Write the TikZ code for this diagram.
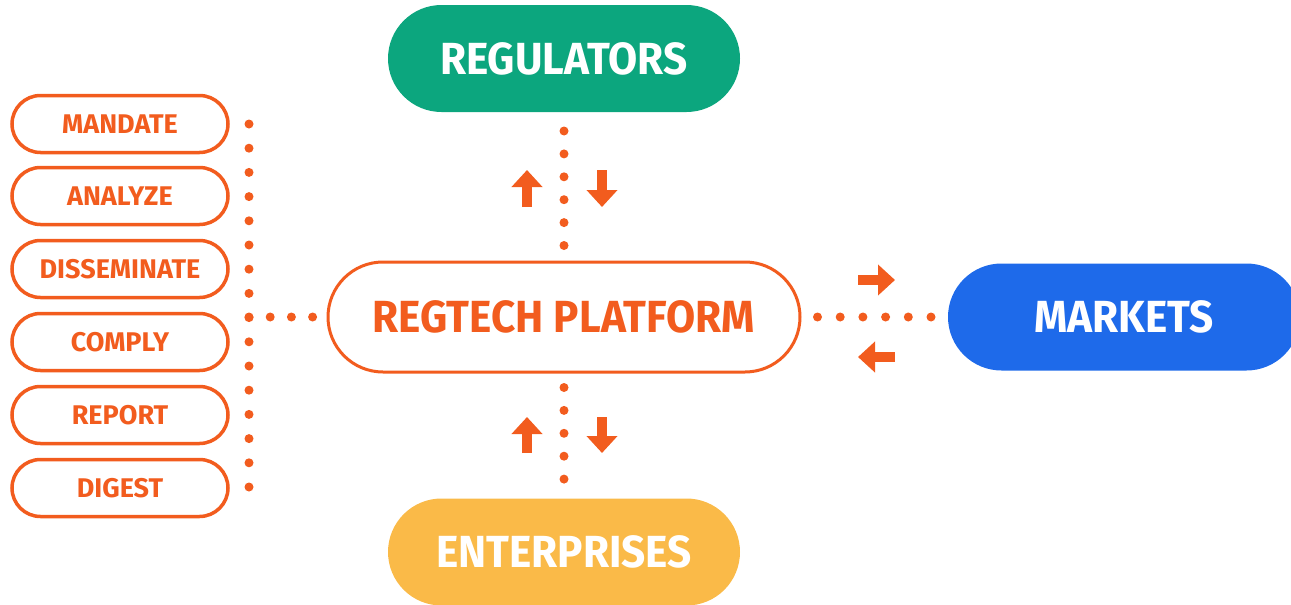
\documentclass[tikz,border=0pt]{standalone}
\usepackage{fontspec}
\newfontfamily\pillfont[FakeStretch=0.94]{Fira Sans}
\newfontfamily\stepfont{Fira Sans}
\usetikzlibrary{arrows.meta}

\definecolor{regorange}{RGB}{242,92,30}
\definecolor{reggreen}{RGB}{12,166,126}
\definecolor{regblue}{RGB}{30,106,234}
\definecolor{regyellow}{RGB}{250,186,72}

\tikzset{
    bigpill/.style={rectangle, rounded corners=53.5pt, minimum width=352pt,
        minimum height=107pt, inner sep=0pt, outer sep=0pt, text=white,
        font=\pillfont\bfseries\fontsize{45}{50}\selectfont},
    steppill/.style={rectangle, draw=regorange, line width=3.5pt, fill=white,
        rounded corners=28.5pt, minimum width=216pt, minimum height=57pt,
        inner sep=0pt, outer sep=0pt, text=regorange,
        font=\stepfont\bfseries\fontsize{27}{30}\selectfont},
    dotline/.style={regorange, line width=9pt, line cap=round,
        dash pattern=on 0pt off #1},
    flowarrow/.style={regorange, line width=10pt,
        -{Triangle[width=30pt,length=17pt]}}
}

\begin{document}
\begin{tikzpicture}[x=1pt,y=-1pt]
    \useasboundingbox (0,0) rectangle (1291,605);

    % main blocks
    \node[bigpill, fill=reggreen] (regulators) at (564,58.5) {REGULATORS};
    \node[bigpill, fill=regyellow] (enterprises) at (564,552) {ENTERPRISES};
    \node[bigpill, fill=regblue] (markets) at (1124,317) {MARKETS};
    \node[bigpill, fill=white, draw=regorange, line width=3pt, text=regorange,
        minimum width=472pt, minimum height=110pt, rounded corners=55pt]
        (platform) at (564,317) {REGTECH PLATFORM};

    % steps
    \node[steppill] (mandate) at (120,124) {MANDATE};
    \node[steppill] (analyze) at (120,196) {ANALYZE};
    \node[steppill] (disseminate) at (120,269) {DISSEMINATE};
    \node[steppill] (comply) at (120,342) {COMPLY};
    \node[steppill] (report) at (120,415) {REPORT};
    \node[steppill] (digest) at (120,488) {DIGEST};

    % dotted links
    \coordinate (coltop) at (249,124);
    \coordinate (colmid) at (249,317);
    \coordinate (colbot) at (249,488.5);
    \draw[dotline=24.2pt] (coltop) -- (colbot);
    \draw[dotline=21.2pt, shorten >=14.5pt] (colmid) -- (platform.west);
    \draw[dotline=22.9pt, shorten <=19pt, shorten >=15pt] (regulators.south) -- (platform.north);
    \draw[dotline=22.9pt, shorten <=15.5pt, shorten >=18pt] (platform.south) -- (enterprises.north);
    \draw[dotline=22.7pt, shorten <=17.5pt, shorten >=15pt] (platform.east) -- (markets.west);

    % direction arrows
    \draw[flowarrow] (527,207) -- (527,170);
    \draw[flowarrow] (602,170) -- (602,207);
    \draw[flowarrow] (527,453) -- (527,417);
    \draw[flowarrow] (602,417) -- (602,453);
    \draw[flowarrow] (858,280) -- (895,280);
    \draw[flowarrow] (895,357) -- (858,357);
\end{tikzpicture}
\end{document}
